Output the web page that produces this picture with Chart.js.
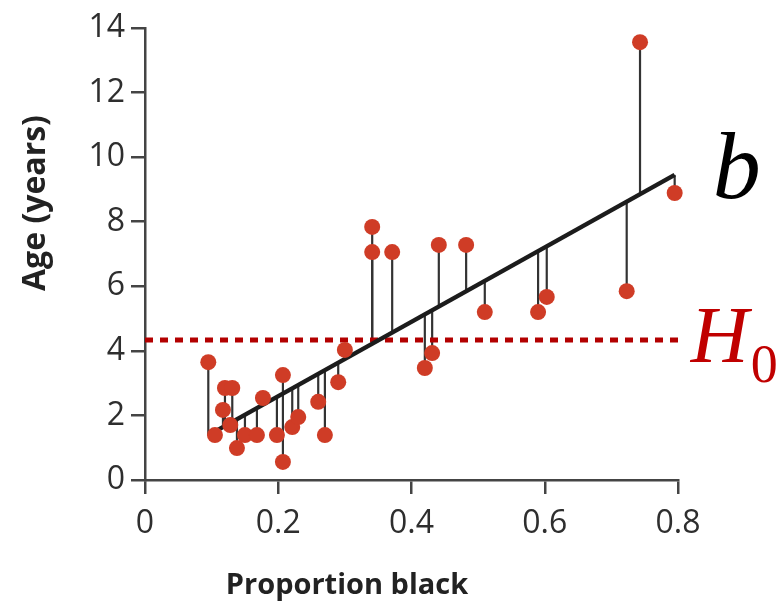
<!DOCTYPE html>
<html>
<head>
<meta charset="utf-8">
<script src="https://cdn.jsdelivr.net/npm/chart.js@4"></script>
<style>
  html, body { margin: 0; padding: 0; background: #fff; }
  canvas { display: block; }
</style>
</head>
<body>
<canvas id="lionChart" width="782" height="609"></canvas>
<script>
// lion noses: proportion black vs age
var propBlack = [0.095, 0.105, 0.117, 0.120, 0.131, 0.128, 0.138, 0.150, 0.168, 0.177, 0.198,
  0.207, 0.207, 0.221, 0.230, 0.260, 0.270, 0.290, 0.300, 0.341, 0.341, 0.371,
  0.420, 0.431, 0.441, 0.482, 0.510, 0.590, 0.603, 0.723, 0.743, 0.795];
var ageYears = [3.65, 1.39, 2.17, 2.85, 2.85, 1.70, 0.99, 1.39, 1.39, 2.54, 1.39,
  3.25, 0.56, 1.64, 1.95, 2.42, 1.39, 3.03, 4.03, 7.84, 7.06, 7.06,
  3.47, 3.93, 7.28, 7.28, 5.20, 5.20, 5.67, 5.85, 13.56, 8.89];

// fitted line (b) end points
var fitX = [0.098, 0.795];
var fitY = [1.42, 9.45];

// null hypothesis line (H0)
var nullX = [0, 0.81];
var nullAge = 4.34;

var xTicks = [0, 0.2, 0.4, 0.6, 0.8];
var xTickLabels = ["0", "0.2", "0.4", "0.6", "0.8"];
var yTicks = [0, 2, 4, 6, 8, 10, 12, 14];

var points = propBlack.map(function (x, i) { return { x: x, y: ageYears[i] }; });
var fitLine = fitX.map(function (x, i) { return { x: x, y: fitY[i] }; });
var nullLine = nullX.map(function (x) { return { x: x, y: nullAge }; });

// residual stems from each point to the fitted line
var stemPlugin = {
  id: "stems",
  beforeDatasetsDraw: function (chart) {
    var ctx = chart.ctx, xs = chart.scales.x, ys = chart.scales.y;
    var x0 = xs.getPixelForValue(fitX[0]), x1 = xs.getPixelForValue(fitX[1]);
    var y0 = ys.getPixelForValue(fitY[0]), y1 = ys.getPixelForValue(fitY[1]);
    ctx.save();
    ctx.strokeStyle = "#333";
    ctx.lineWidth = 2.2;
    points.forEach(function (p) {
      var px = xs.getPixelForValue(p.x);
      var py = ys.getPixelForValue(p.y);
      var ly = y0 + (y1 - y0) * (px - x0) / (x1 - x0);
      ctx.beginPath();
      ctx.moveTo(px, py);
      ctx.lineTo(px, ly);
      ctx.stroke();
    });
    ctx.restore();
  }
};

// axis titles and the b / H0 labels
var labelPlugin = {
  id: "labels",
  afterDraw: function (chart) {
    var ctx = chart.ctx, xs = chart.scales.x, ys = chart.scales.y;
    ctx.save();
    ctx.fillStyle = "#222";
    ctx.font = "bold 29px 'Open Sans'";
    ctx.textAlign = "center";
    ctx.textBaseline = "middle";
    ctx.fillText("Proportion black", 347, 586);
    ctx.translate(36, 203);
    ctx.rotate(-Math.PI / 2);
    ctx.font = "bold 32px 'Open Sans'";
    ctx.fillText("Age (years)", 0, 0);
    ctx.restore();

    ctx.save();
    ctx.textAlign = "left";
    ctx.textBaseline = "alphabetic";
    var bx = xs.getPixelForValue(fitX[1]), by = ys.getPixelForValue(fitY[1]);
    ctx.fillStyle = "#000";
    ctx.font = "italic 96px 'Liberation Serif'";
    ctx.fillText("b", bx + 38, by + 23);

    var hx = xs.getPixelForValue(nullX[1]), hy = ys.getPixelForValue(nullAge);
    ctx.fillStyle = "#c00000";
    ctx.font = "italic 80px 'Liberation Serif'";
    ctx.fillText("H", hx + 6, hy + 22);
    ctx.font = "54px 'Liberation Serif'";
    ctx.fillText("0", hx + 66, hy + 42);
    ctx.restore();
  }
};

var tickFont = { family: "'Open Sans'", size: 32 };

new Chart(document.getElementById("lionChart").getContext("2d"), {
  type: "scatter",
  data: {
    datasets: [
      {
        data: points,
        backgroundColor: "#cf3c26",
        borderColor: "#cf3c26",
        borderWidth: 0,
        pointRadius: 8,
        pointHoverRadius: 8,
        clip: false,
        order: 0
      },
      {
        type: "line",
        data: fitLine,
        borderColor: "#1c1c1c",
        borderWidth: 4.5,
        pointRadius: 0,
        fill: false,
        clip: false,
        order: 1
      },
      {
        type: "line",
        data: nullLine,
        borderColor: "#b30000",
        borderWidth: 5,
        borderDash: [8, 7],
        borderCapStyle: "butt",
        pointRadius: 0,
        fill: false,
        clip: false,
        order: 2
      }
    ]
  },
  options: {
    responsive: false,
    animation: false,
    layout: { padding: { top: 28, right: 104, left: 0, bottom: 0 } },
    plugins: { legend: { display: false }, tooltip: { enabled: false } },
    scales: {
      x: {
        type: "linear",
        min: 0,
        max: 0.8,
        afterBuildTicks: function (s) { s.ticks = xTicks.map(function (v) { return { value: v }; }); },
        afterFit: function (s) { s.height = 129; },
        ticks: {
          callback: function (v, i) { return xTickLabels[i]; },
          font: tickFont,
          color: "#2e2e2e",
          padding: 11,
          maxRotation: 0,
          autoSkip: false
        },
        grid: { drawOnChartArea: false, drawTicks: true, tickLength: 14, color: "#444", lineWidth: 2.5 },
        border: { display: true, color: "#444", width: 2.5 }
      },
      y: {
        min: 0,
        max: 14,
        afterBuildTicks: function (s) { s.ticks = yTicks.map(function (v) { return { value: v }; }); },
        afterFit: function (s) { s.width = 145; },
        ticks: {
          font: tickFont,
          color: "#2e2e2e",
          padding: 6,
          autoSkip: false
        },
        grid: { drawOnChartArea: false, drawTicks: true, tickLength: 14, color: "#444", lineWidth: 2.5 },
        border: { display: true, color: "#444", width: 2.5 }
      }
    }
  },
  plugins: [stemPlugin, labelPlugin]
});
</script>
</body>
</html>
